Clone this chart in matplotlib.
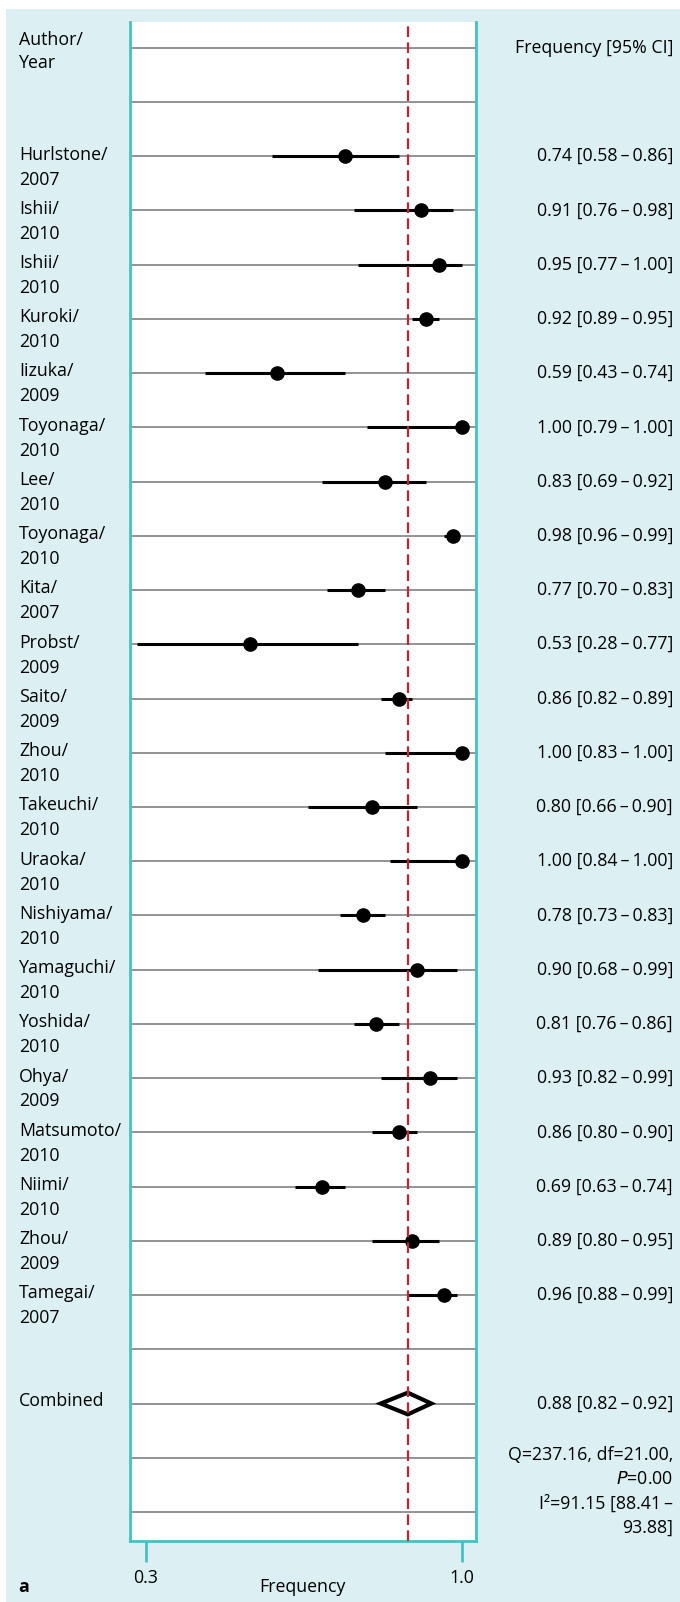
import numpy as np
import matplotlib.pyplot as plt
from matplotlib.transforms import blended_transform_factory
from matplotlib.patches import Rectangle, Polygon

authors = ['Hurlstone', 'Ishii', 'Ishii', 'Kuroki', 'Iizuka', 'Toyonaga', 'Lee',
           'Toyonaga', 'Kita', 'Probst', 'Saito', 'Zhou', 'Takeuchi', 'Uraoka',
           'Nishiyama', 'Yamaguchi', 'Yoshida', 'Ohya', 'Matsumoto', 'Niimi',
           'Zhou', 'Tamegai']
years = ['2007', '2010', '2010', '2010', '2009', '2010', '2010', '2010', '2007',
         '2009', '2009', '2010', '2010', '2010', '2010', '2010', '2010', '2009',
         '2010', '2010', '2009', '2007']
freq = [0.74, 0.91, 0.95, 0.92, 0.59, 1.00, 0.83, 0.98, 0.77, 0.53, 0.86, 1.00,
        0.80, 1.00, 0.78, 0.90, 0.81, 0.93, 0.86, 0.69, 0.89, 0.96]
lo = [0.58, 0.76, 0.77, 0.89, 0.43, 0.79, 0.69, 0.96, 0.70, 0.28, 0.82, 0.83,
      0.66, 0.84, 0.73, 0.68, 0.76, 0.82, 0.80, 0.63, 0.80, 0.88]
hi = [0.86, 0.98, 1.00, 0.95, 0.74, 1.00, 0.92, 0.99, 0.83, 0.77, 0.89, 1.00,
      0.90, 1.00, 0.83, 0.99, 0.86, 0.99, 0.90, 0.74, 0.95, 0.99]
comb = 0.88
comb_lo = 0.82
comb_hi = 0.92
het_lines = ['Q=237.16, df=21.00,', '$\\it{P}$=0.00', 'I²=91.15 [88.41\u2009–', '93.88]']
xticks = [0.3, 1.0]

plt.rcParams['font.family'] = ['Open Sans', 'DejaVu Sans']
blue = '#dcf0f3'
teal = '#45c1c5'
fs = 12.8

fig = plt.figure(figsize=(6.8, 16.02), dpi=100)
fig.patch.set_facecolor('white')
fig.patches.append(Rectangle((6 / 680, 0), 1, 1 - 9 / 1602, transform=fig.transFigure,
                             facecolor=blue, edgecolor='none', zorder=-10))

ax = fig.add_axes([129.7 / 680, 1 - 1541 / 1602, (476 - 129.7) / 680, (1541 - 21.7) / 1602])
ax.set_facecolor('white')

n = len(authors)
rows = np.arange(n) + 2
comb_row = n + 3
all_lines = np.arange(n + 6)

for r in all_lines:
    ax.axhline(r, color='#8a8a8a', lw=1.3, zorder=1)

ax.hlines(rows, lo, hi, color='black', lw=2.2, zorder=3)
ax.plot(freq, rows, 'o', color='black', ms=9.5, zorder=4)

dh = 0.2
diamond = Polygon([[comb_lo, comb_row], [comb, comb_row - dh], [comb_hi + 0.012, comb_row],
                   [comb, comb_row + dh]], closed=True, facecolor='white',
                  edgecolor='black', lw=3, zorder=4)
ax.add_patch(diamond)

ax.axvline(comb, color='#cc2229', lw=1.6, dashes=(4.8, 2.4), zorder=5)

ax.set_xlim(0.264, 1.031)
ax.set_ylim(n + 5 + 0.535, -0.48)
ax.set_yticks([])
ax.set_xticks(xticks)
ax.set_xticklabels(['0.3', '1.0'], fontsize=fs)
ax.tick_params(axis='x', direction='out', length=15, width=2, color=teal, pad=5)
for s in ['left', 'right', 'bottom']:
    ax.spines[s].set_color(teal)
    ax.spines[s].set_linewidth(2)
ax.spines['top'].set_visible(False)
ax.set_xlabel('Frequency', fontsize=fs, labelpad=-6)

tr = blended_transform_factory(fig.transFigure, ax.transData)
xl = 19 / 680
xr = 673 / 680
fig.text(xl, -0.14, 'Author/', transform=tr, ha='left', va='center', fontsize=fs)
fig.text(xl, 0.28, 'Year', transform=tr, ha='left', va='center', fontsize=fs)
fig.text(xr, 0, 'Frequency [95% CI]', transform=tr, ha='right', va='center', fontsize=fs)

for i in range(n):
    r = rows[i]
    fig.text(xl, r - 0.03, authors[i] + '/', transform=tr, ha='left', va='center', fontsize=fs)
    fig.text(xl, r + 0.43, years[i], transform=tr, ha='left', va='center', fontsize=fs)
    fig.text(xr, r, '%.2f [%.2f\u2009–\u2009%.2f]' % (freq[i], lo[i], hi[i]), transform=tr,
             ha='right', va='center', fontsize=fs)

fig.text(xl, comb_row - 0.05, 'Combined', transform=tr, ha='left', va='center', fontsize=fs)
fig.text(xr, comb_row, '%.2f [%.2f\u2009–\u2009%.2f]' % (comb, comb_lo, comb_hi), transform=tr,
         ha='right', va='center', fontsize=fs)
for j, t in enumerate(het_lines):
    fig.text(xr, comb_row + 0.95 + j * 0.45, t, transform=tr, ha='right', va='center', fontsize=fs)

fig.text(18 / 680, 1 - 1587 / 1602, 'a', ha='left', va='center', fontsize=fs, fontweight='bold')

fig.savefig('out.png', dpi=100, facecolor=fig.get_facecolor())
